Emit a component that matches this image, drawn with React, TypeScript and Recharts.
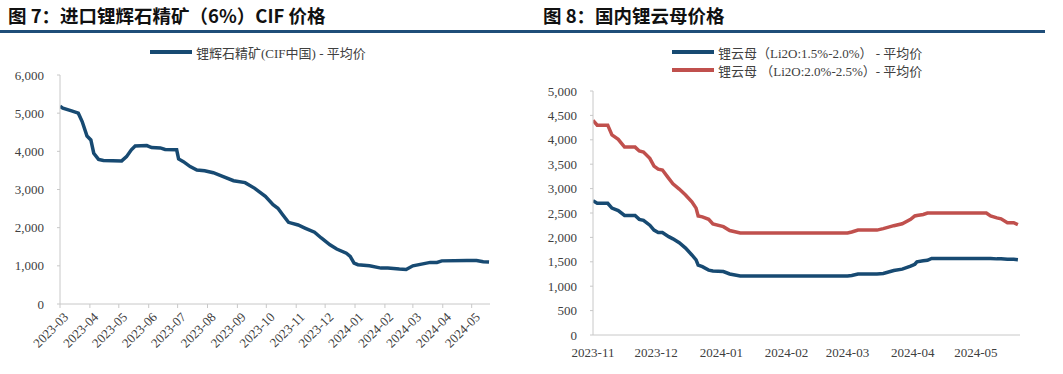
import { LineChart, Line, XAxis, YAxis } from "recharts";

// 图7：进口锂辉石精矿（6%）CIF 价格
const spodDates = [
  "2023-03-01", "2023-03-04", "2023-03-13", "2023-03-20", "2023-03-24", "2023-03-29",
  "2023-04-02", "2023-04-05", "2023-04-10", "2023-04-15", "2023-05-04", "2023-05-09",
  "2023-05-14", "2023-05-18", "2023-05-30", "2023-06-04", "2023-06-13", "2023-06-18",
  "2023-06-30", "2023-07-02", "2023-07-07", "2023-07-14", "2023-07-21", "2023-07-29",
  "2023-08-07", "2023-08-16", "2023-08-28", "2023-09-09", "2023-09-19", "2023-09-30",
  "2023-10-08", "2023-10-13", "2023-10-18", "2023-10-24", "2023-11-03", "2023-11-10",
  "2023-11-20", "2023-11-27", "2023-12-06", "2023-12-13", "2023-12-23", "2023-12-27",
  "2023-12-31", "2024-01-04", "2024-01-16", "2024-01-28", "2024-02-04", "2024-02-16",
  "2024-02-23", "2024-03-01", "2024-03-10", "2024-03-19", "2024-03-26", "2024-03-31",
  "2024-04-26", "2024-05-06", "2024-05-13", "2024-05-19",
];
const spodPrice = [
  5180, 5130, 5060, 5000, 4780, 4400,
  4300, 3950, 3790, 3760, 3750, 3860,
  4040, 4140, 4150, 4100, 4090, 4050,
  4040, 3800, 3730, 3600, 3510, 3490,
  3440, 3350, 3230, 3180, 3030, 2820,
  2600, 2510, 2340, 2140, 2070, 1990,
  1880, 1730, 1550, 1440, 1330, 1250,
  1070, 1030, 1000, 940, 940, 915,
  905, 1000, 1045, 1090, 1090, 1130,
  1140, 1140, 1110, 1100,
];
const spodTicks = [
  "2023-03-01", "2023-04-01", "2023-05-01", "2023-06-01", "2023-07-01", "2023-08-01",
  "2023-09-01", "2023-10-01", "2023-11-01", "2023-12-01", "2024-01-01", "2024-02-01",
  "2024-03-01", "2024-04-01", "2024-05-01",
];
const spodYTicks = [0, 1000, 2000, 3000, 4000, 5000, 6000];

// 图8：国内锂云母价格
const micaDates = [
  "2023-11-01", "2023-11-03", "2023-11-08", "2023-11-10", "2023-11-13", "2023-11-16",
  "2023-11-21", "2023-11-23", "2023-11-25", "2023-11-28", "2023-11-30", "2023-12-02",
  "2023-12-04", "2023-12-07", "2023-12-09", "2023-12-12", "2023-12-15", "2023-12-18",
  "2023-12-20", "2023-12-21", "2023-12-23", "2023-12-26", "2023-12-28", "2024-01-02",
  "2024-01-05", "2024-01-10", "2024-03-01", "2024-03-03", "2024-03-06", "2024-03-15",
  "2024-03-18", "2024-03-23", "2024-03-27", "2024-03-31", "2024-04-02", "2024-04-03",
  "2024-04-06", "2024-04-08", "2024-04-10", "2024-05-06", "2024-05-08", "2024-05-11",
  "2024-05-13", "2024-05-16", "2024-05-19", "2024-05-21",
];
const micaLow = [
  2750, 2700, 2700, 2600, 2550, 2450,
  2450, 2370, 2350, 2250, 2150, 2100,
  2100, 2015, 1970, 1890, 1780, 1640,
  1540, 1430, 1400, 1330, 1310, 1300,
  1250, 1210, 1210, 1220, 1250, 1250,
  1260, 1320, 1350, 1410, 1450, 1500,
  1520, 1530, 1570, 1570, 1570, 1560,
  1560, 1550, 1550, 1540,
];
const micaHigh = [
  4400, 4300, 4300, 4100, 4010, 3850,
  3850, 3770, 3750, 3620, 3460, 3400,
  3380, 3210, 3100, 2990, 2870, 2730,
  2600, 2440, 2420, 2370, 2275, 2220,
  2140, 2090, 2090, 2110, 2150, 2150,
  2180, 2240, 2280, 2370, 2440, 2450,
  2470, 2500, 2500, 2500, 2440, 2400,
  2380, 2300, 2300, 2260,
];
const micaTicks = [
  "2023-11-01", "2023-12-01", "2024-01-01", "2024-02-01", "2024-03-01", "2024-04-01",
  "2024-05-01",
];
const micaYTicks = [0, 500, 1000, 1500, 2000, 2500, 3000, 3500, 4000, 4500, 5000];

const BLUE = "#174a72";
const RED = "#c0504d";
const AXIS = "#c8c8c8";
const TEXT = "#404040";
const NUM_FONT = "'Liberation Serif', 'Noto Sans CJK SC', serif";
const CJK_FONT = "'Liberation Serif', 'Noto Sans CJK SC', sans-serif";

const toTs = (s: string) => {
  const [y, m, d] = s.split("-").map(Number);
  return Date.UTC(y, m - 1, d);
};
const monthLabel = (t: number) => {
  const d = new Date(t);
  return `${d.getUTCFullYear()}-${String(d.getUTCMonth() + 1).padStart(2, "0")}`;
};
const thousands = (v: number) => v.toLocaleString("en-US");

const spodData = spodDates.map((d, i) => ({ t: toTs(d), price: spodPrice[i] }));
const micaData = micaDates.map((d, i) => ({ t: toTs(d), low: micaLow[i], high: micaHigh[i] }));

const RotTick = ({ x, y, payload }: any) => (
  <g transform={`translate(${x},${y})`}>
    <text
      x={0}
      y={0}
      dy={12}
      dx={1}
      textAnchor="end"
      transform="rotate(-45)"
      fill={TEXT}
      fontSize={13}
      fontFamily={NUM_FONT}
    >
      {monthLabel(payload.value)}
    </text>
  </g>
);

const numTick = { fill: TEXT, fontSize: 13, fontFamily: NUM_FONT };

function Title({ left, text }: { left: number; text: string }) {
  return (
    <div
      style={{
        position: "absolute",
        left,
        top: 3,
        fontSize: 18.5,
        lineHeight: "24px",
        fontWeight: 700,
        fontFamily: "'Noto Sans CJK SC', sans-serif",
        color: "#111",
        whiteSpace: "nowrap",
      }}
    >
      {text}
    </div>
  );
}

function LegendRow({ left, top, color, label }: { left: number; top: number; color: string; label: string }) {
  return (
    <div style={{ position: "absolute", left, top, height: 16, display: "flex", alignItems: "center" }}>
      <div style={{ width: 42, height: 4, background: color, marginRight: 4 }} />
      <span style={{ fontSize: 13, fontFamily: CJK_FONT, color: TEXT, whiteSpace: "nowrap" }}>{label}</span>
    </div>
  );
}

export default function App() {
  return (
    <div style={{ position: "absolute", left: 0, top: 0, width: 1063, height: 374, background: "#fff", overflow: "hidden" }}>
      <Title left={8} text="图 7：进口锂辉石精矿（6%）CIF 价格" />
      <Title left={543} text="图 8：国内锂云母价格" />
      <div style={{ position: "absolute", left: 0, top: 30, width: 530, height: 3, background: "#1f4e79" }} />
      <div style={{ position: "absolute", left: 530, top: 30, width: 515, height: 3, background: "#1f4e79" }} />

      <LegendRow left={150} top={44} color={BLUE} label="锂辉石精矿(CIF中国) - 平均价" />
      <LegendRow left={672} top={44} color={BLUE} label="锂云母（Li2O:1.5%-2.0%） - 平均价" />
      <LegendRow left={672} top={62} color={RED} label="锂云母 （Li2O:2.0%-2.5%）- 平均价" />

      <div style={{ position: "absolute", left: 0, top: 0 }}>
        <LineChart width={530} height={374} data={spodData} margin={{ top: 75, right: 40, bottom: 0, left: 0 }}>
          <XAxis
            dataKey="t"
            type="number"
            domain={[toTs("2023-03-01"), toTs("2024-05-20")]}
            ticks={spodTicks.map(toTs)}
            interval={0}
            height={70}
            stroke={AXIS}
            tickSize={4}
            tickMargin={2}
            tick={<RotTick />}
            allowDataOverflow
          />
          <YAxis
            domain={[0, 6000]}
            ticks={spodYTicks}
            interval={0}
            width={60}
            stroke={AXIS}
            tickSize={3}
            tickMargin={13}
            tick={numTick}
            tickFormatter={thousands}
          />
          <Line
            type="linear"
            dataKey="price"
            stroke={BLUE}
            strokeWidth={3.5}
            dot={false}
            isAnimationActive={false}
          />
        </LineChart>
      </div>

      <div style={{ position: "absolute", left: 530, top: 0 }}>
        <LineChart width={533} height={374} data={micaData} margin={{ top: 91, right: 43, bottom: 0, left: 0 }}>
          <XAxis
            dataKey="t"
            type="number"
            domain={[toTs("2023-11-01"), toTs("2024-05-22")]}
            ticks={micaTicks.map(toTs)}
            interval={0}
            height={39}
            stroke={AXIS}
            tickLine={false}
            tickMargin={7}
            tick={numTick}
            tickFormatter={monthLabel}
            allowDataOverflow
          />
          <YAxis
            domain={[0, 5000]}
            ticks={micaYTicks}
            interval={0}
            width={63}
            stroke={AXIS}
            tickSize={3}
            tickMargin={13}
            tick={numTick}
            tickFormatter={thousands}
          />
          <Line type="linear" dataKey="low" stroke={BLUE} strokeWidth={3.5} dot={false} isAnimationActive={false} />
          <Line type="linear" dataKey="high" stroke={RED} strokeWidth={3.5} dot={false} isAnimationActive={false} />
        </LineChart>
      </div>
    </div>
  );
}
